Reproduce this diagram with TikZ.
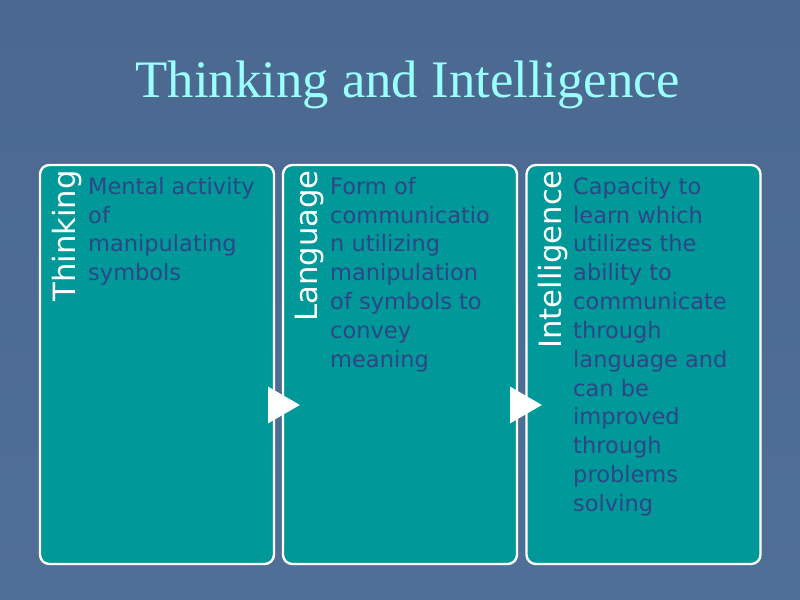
\documentclass[tikz,border=0pt]{standalone}
\usepackage{fontspec}
\setmainfont{Liberation Serif}
\newfontfamily\boxfont{DejaVu Sans}
\usepackage{tikz}
\usetikzlibrary{shapes.geometric}

\definecolor{slidebg}{RGB}{80,111,150}
\definecolor{slidetop}{RGB}{74,104,144}
\definecolor{boxteal}{RGB}{0,152,152}
\definecolor{titlecyan}{RGB}{153,255,255}
\definecolor{bodynavy}{RGB}{46,70,136}

\tikzset{
	box/.style={draw=white, line width=2pt, fill=boxteal, rounded corners=8pt,
		minimum width=7.02cm, minimum height=11.97cm, inner sep=0pt},
	boxlabel/.style={rotate=90, anchor=north east, inner sep=0pt, text=white,
		font=\boxfont\fontsize{26.2}{28}\selectfont},
	boxtext/.style={anchor=north west, inner sep=0pt, align=left, text=bodynavy,
		font=\boxfont\fontsize{19.2}{24.6}\selectfont},
	pointer/.style={isosceles triangle, isosceles triangle apex angle=60, fill=white,
		minimum height=0.95cm, inner sep=0pt}
}

\begin{document}
\begin{tikzpicture}[x=0.03cm, y=-0.03cm]
					% slide background
					\shade[top color=slidetop, bottom color=slidebg] (0,0) rectangle (800,600);
					\useasboundingbox (0,0) rectangle (800,600);
					
					\node (title) [anchor=base, text=titlecyan, font=\fontsize{45}{50}\selectfont] at (408,98) {Thinking and Intelligence};
					
					% the three boxes
					\node (thinking) [box] at (157,364.5) {};
					\node (language) [box] at (400,364.5) {};
					\node (intelligence) [box] at (643.5,364.5) {};
					
					\node (thinkinglabel) [boxlabel] at (52,170) {Thinking};
					\node (languagelabel) [boxlabel] at (295,170) {Language};
					\node (intelligencelabel) [boxlabel] at (538,170) {Intelligence};
					
					\node (thinkingtext) [boxtext] at (88,177) {Mental activity\\of\\manipulating\\symbols};
					\node (languagetext) [boxtext] at (330,177) {Form of\\communicatio\\n utilizing\\manipulation\\of symbols to\\convey\\meaning};
					\node (intelligencetext) [boxtext] at (573,177) {Capacity to\\learn which\\utilizes the\\ability to\\communicate\\through\\language and\\can be\\improved\\through\\problems\\solving};
					
					% arrows between boxes
					\node (pointerone) [pointer, anchor=west] at (268,405) {};
					\node (pointertwo) [pointer, anchor=west] at (510,405) {};
				\end{tikzpicture}
\end{document}
